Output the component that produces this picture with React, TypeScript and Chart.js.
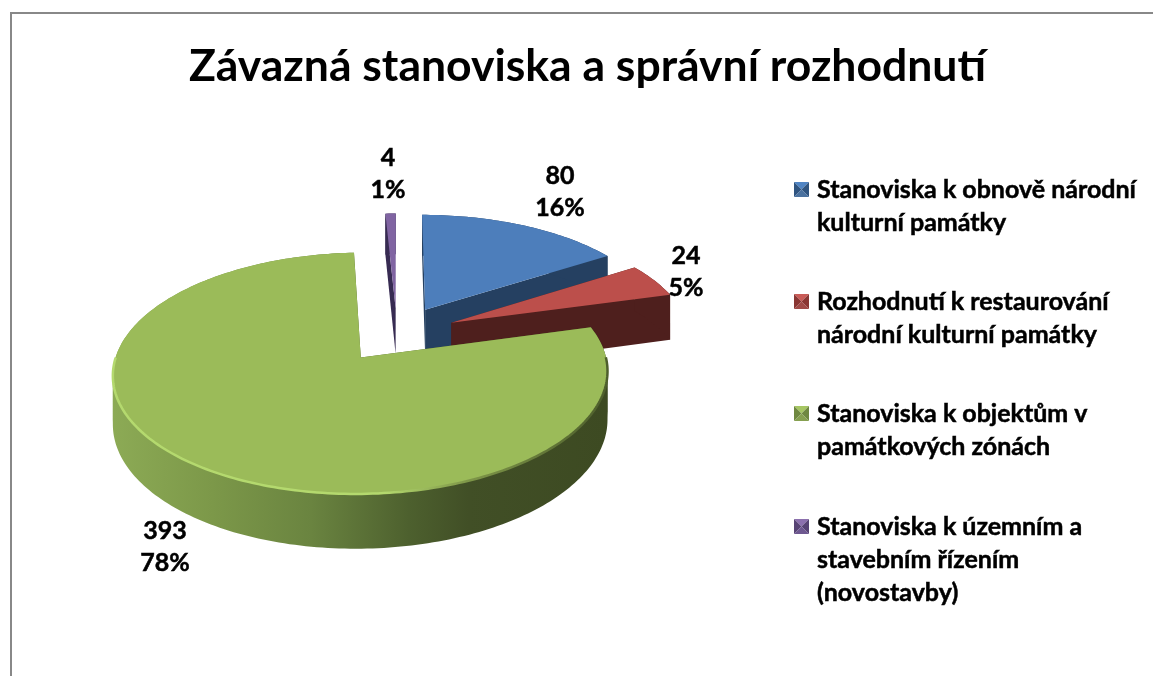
import React, { useEffect, useRef } from "react";
import { Chart, registerables } from "chart.js";

Chart.register(...registerables);

const TITLE = "Závazná stanoviska a správní rozhodnutí";
const LEGEND_LINES = [
  ["Stanoviska k obnově národní", "kulturní památky"],
  ["Rozhodnutí k restaurování", "národní kulturní památky"],
  ["Stanoviska k objektům v", "památkových zónách"],
  ["Stanoviska k územním a", "stavebním řízením", "(novostavby)"],
];
const CATEGORIES = LEGEND_LINES.map((l) => l.join(" "));
const VALUES = [80, 24, 393, 4];
const TOP_COLORS = ["#4d7ebb", "#bc4f4b", "#9bbb59", "#8064a2"];
const WALL_COLORS = ["#254061", "#4e1f1d", "#4f6228", "#372b52"];
const MARKER_LIGHT = ["#4f84c4", "#c95b57", "#a6c663", "#8c70ae"];
const MARKER_MID = ["#2f5480", "#8a3633", "#6f8840", "#574374"];
const MARKER_DARK = ["#4a719f", "#a04a47", "#86a050", "#6e5890"];
const OFFSETS = [64, 64, 64, 60];

// layout of the oblique projection and of the texts
const CX = 397, CY = 334, SX = 239, SY = 112.5, PERSP = 0.125, DEPTH = 47;
const DRAW_ORDER = [3, 0, 1, 2];
const LABEL_POS = [[560, 192], [686, 272], [165, 547], [388, 174]];
const LABEL_GAP = 32;
const LEGEND_Y = [190, 302, 414, 527];
const LEGEND_GAP = 33;
const FONT = "Lato, Carlito, Calibri, sans-serif";

const project = (u: number, v: number) => {
  const w = 1 - PERSP * v;
  return { x: CX + (SX * u) / w, y: CY + (SY * v) / w, d: DEPTH / w };
};

const piePlugin = {
  id: "obliquePie",
  beforeDraw(chart: any) {
    const { ctx } = chart;
    ctx.save();
    ctx.strokeStyle = "#888888";
    ctx.lineWidth = 2;
    ctx.beginPath();
    ctx.moveTo(11, chart.height);
    ctx.lineTo(11, 13);
    ctx.lineTo(chart.width, 13);
    ctx.stroke();
    ctx.restore();
  },
  beforeDatasetDraw(chart: any) {
    const { ctx } = chart;
    const arcs = chart.getDatasetMeta(0).data;
    const wallGrad = ctx.createLinearGradient(114, 0, 606, 0);
    wallGrad.addColorStop(0, "#8caa55");
    wallGrad.addColorStop(0.2, "#7c9849");
    wallGrad.addColorStop(0.4, "#6a8440");
    wallGrad.addColorStop(0.6, "#4d602e");
    wallGrad.addColorStop(0.72, "#414f26");
    wallGrad.addColorStop(1, "#3d4a22");
    const rimGrad = ctx.createLinearGradient(114, 0, 606, 0);
    rimGrad.addColorStop(0, "#b4d96e");
    rimGrad.addColorStop(0.55, "#b4d96e");
    rimGrad.addColorStop(0.72, "#7e9648");
    rimGrad.addColorStop(1, "#4e5f2c");

    for (const i of DRAW_ORDER) {
      const el = arcs[i];
      const R = el.outerRadius;
      const e = el.options.offset / R;
      const mid = (el.startAngle + el.endAngle) / 2;
      const ax = e * Math.cos(mid);
      const ay = e * Math.sin(mid);
      const steps = Math.max(2, Math.ceil((el.endAngle - el.startAngle) / 0.02));
      const rim: any[] = [];
      for (let s = 0; s <= steps; s++) {
        const a = el.startAngle + ((el.endAngle - el.startAngle) * s) / steps;
        rim.push({ ...project(ax + Math.cos(a), ay + Math.sin(a)), a });
      }
      const apex = project(ax, ay);
      const wall = (pts: any[], style: any) => {
        ctx.fillStyle = style;
        ctx.beginPath();
        pts.forEach((p, k) => (k ? ctx.lineTo(p.x, p.y) : ctx.moveTo(p.x, p.y)));
        for (let k = pts.length - 1; k >= 0; k--) ctx.lineTo(pts[k].x, pts[k].y + pts[k].d);
        ctx.closePath();
        ctx.fill();
      };
      wall([apex, rim[0]], WALL_COLORS[i]);
      wall([apex, rim[rim.length - 1]], WALL_COLORS[i]);
      // split the rim where it turns round, so each stretch of wall is a simple shape
      let run: any[] = [rim[0]];
      let dir = 0;
      for (let s = 1; s < rim.length; s++) {
        const d = Math.sign(rim[s].x - rim[s - 1].x);
        if (dir && d && d !== dir) {
          wall(run, i === 2 ? wallGrad : WALL_COLORS[i]);
          run = [rim[s - 1]];
        }
        if (d) dir = d;
        run.push(rim[s]);
      }
      wall(run, i === 2 ? wallGrad : WALL_COLORS[i]);

      ctx.fillStyle = TOP_COLORS[i];
      ctx.beginPath();
      ctx.moveTo(apex.x, apex.y);
      rim.forEach((p) => ctx.lineTo(p.x, p.y));
      ctx.closePath();
      ctx.fill();

      const front = rim.filter((p) => Math.sin(p.a) > -0.02);
      if (front.length > 1) {
        ctx.strokeStyle = rimGrad;
        ctx.lineWidth = 2.5;
        ctx.beginPath();
        front.forEach((p, k) => (k ? ctx.lineTo(p.x, p.y + 0.5) : ctx.moveTo(p.x, p.y + 0.5)));
        ctx.stroke();
      }
    }
    return false;
  },
  afterDraw(chart: any) {
    const { ctx } = chart;
    const values: number[] = chart.data.datasets[0].data;
    const total = values.reduce((a, b) => a + b, 0);
    ctx.save();
    ctx.textBaseline = "middle";
    ctx.font = `bold 25px ${FONT}`;
    ctx.textAlign = "center";
    ctx.strokeStyle = "#000000";
    ctx.lineWidth = 0.5;
    const put = (t: string, x: number, y: number) => {
      ctx.fillStyle = "#000000";
      ctx.fillText(t, x, y);
      ctx.strokeText(t, x, y);
    };
    values.forEach((v, i) => {
      const [x, y] = LABEL_POS[i];
      put(String(v), x, y - LABEL_GAP / 2);
      put(`${Math.round((v / total) * 100)}%`, x, y + LABEL_GAP / 2);
    });
    ctx.textAlign = "left";
    LEGEND_LINES.forEach((lines, i) => {
      const y = LEGEND_Y[i];
      lines.forEach((t, k) => put(t, 817, y + k * LEGEND_GAP));
      const l = 794, r = 809, tp = y - 8, b = y + 7, mx = (l + r) / 2, my = (tp + b) / 2;
      const tri = (x1: number, y1: number, x2: number, y2: number, c: string) => {
        ctx.fillStyle = c;
        ctx.beginPath();
        ctx.moveTo(x1, y1);
        ctx.lineTo(x2, y2);
        ctx.lineTo(mx, my);
        ctx.closePath();
        ctx.fill();
      };
      tri(l, tp, r, tp, MARKER_LIGHT[i]);
      tri(l, tp, l, b, MARKER_MID[i]);
      tri(r, tp, r, b, MARKER_MID[i]);
      tri(l, b, r, b, MARKER_DARK[i]);
    });
    ctx.restore();
  },
};

export default function App() {
  const ref = useRef<HTMLCanvasElement | null>(null);
  useEffect(() => {
    document.body.style.margin = "0";
    const chart = new Chart(ref.current as HTMLCanvasElement, {
      type: "pie",
      data: {
        labels: CATEGORIES,
        datasets: [{ data: VALUES, backgroundColor: TOP_COLORS, borderWidth: 0, offset: OFFSETS }],
      },
      options: {
        responsive: false,
        animation: false,
        events: [],
        layout: { padding: { left: 22 } },
        plugins: {
          legend: { display: false },
          tooltip: { enabled: false },
          title: {
            display: true,
            text: TITLE,
            color: "#000000",
            font: { family: FONT, size: 44.5, weight: "bold" },
            padding: { top: 40, bottom: 10 },
          },
        },
      } as any,
      plugins: [piePlugin as any],
    });
    return () => chart.destroy();
  }, []);
  return (
    <canvas
      ref={ref}
      width={1153}
      height={676}
      style={{ display: "block", width: 1153, height: 676 }}
    />
  );
}
